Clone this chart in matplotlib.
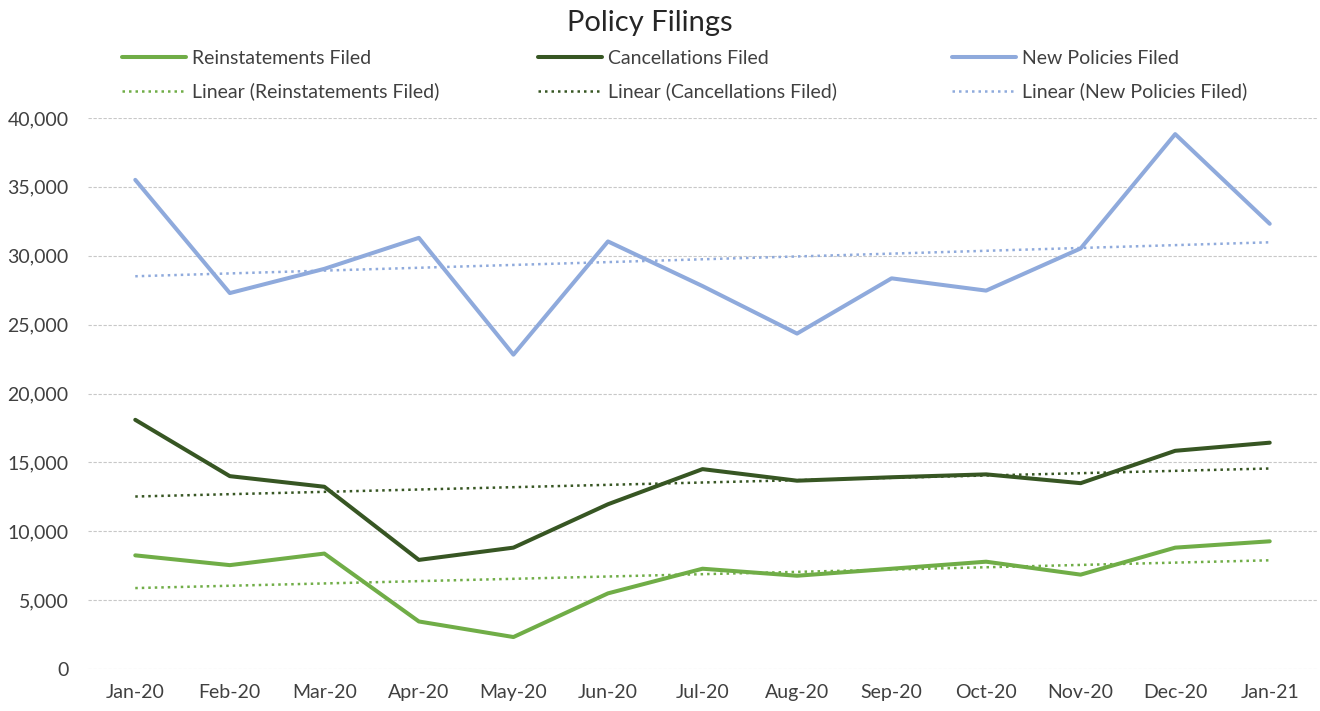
import numpy as np
import matplotlib
matplotlib.use("Agg")
import matplotlib.pyplot as plt
from matplotlib.ticker import FuncFormatter

plt.rcParams['font.family'] = ['Lato', 'DejaVu Sans']

months = ["Jan-20", "Feb-20", "Mar-20", "Apr-20", "May-20", "Jun-20", "Jul-20",
          "Aug-20", "Sep-20", "Oct-20", "Nov-20", "Dec-20", "Jan-21"]

reinstatements = [8250, 7540, 8380, 3450, 2320, 5490, 7280, 6770, 7280, 7790, 6850, 8810, 9270]
cancellations = [18090, 14000, 13230, 7920, 8810, 11960, 14510, 13670, 13920, 14130, 13490, 15840, 16430]
new_policies = [35510, 27290, 29050, 31300, 22820, 31040, 27800, 24350, 28360, 27470, 30530, 38830, 32320]

c_rein = "#70AD47"
c_canc = "#375623"
c_new = "#8FAADC"
txt = "#404040"

fig = plt.figure(figsize=(13.2, 7.11), dpi=100)
ax = fig.add_axes([88/1320, 1-669/711, (1317-88)/1320, (669-118)/711])

x = np.arange(len(months))

def trend(vals):
    # excel style linear trendline
    k, b = np.polyfit(x, vals, 1)
    return k*x + b

lines = []
for vals, col, name in [(reinstatements, c_rein, "Reinstatements Filed"),
                        (cancellations, c_canc, "Cancellations Filed"),
                        (new_policies, c_new, "New Policies Filed")]:
    l1, = ax.plot(x, vals, color=col, lw=2.9, label=name, solid_capstyle='round', zorder=3)
    l2, = ax.plot(x, trend(vals), color=col, lw=1.8, linestyle=(0, (1, 1.6)),
                  label="Linear (" + name + ")", zorder=2)
    lines.append((l1, l2))

ax.set_xlim(-0.5, len(months) - 0.5)
ax.set_ylim(0, 40000)
ax.set_yticks(range(0, 40001, 5000))
ax.yaxis.set_major_formatter(FuncFormatter(lambda v, p: f"{int(v):,}"))
ax.set_xticks(x)
ax.set_xticklabels(months)
ax.grid(axis='y', color='#c8c8c8', linestyle=(0, (3, 1.5)), lw=0.8)
ax.set_axisbelow(True)
for s in ax.spines.values():
    s.set_visible(False)
ax.tick_params(axis='both', length=0, labelsize=14, labelcolor=txt)
ax.tick_params(axis='y', pad=14)
ax.tick_params(axis='x', pad=11)

fig.text(0.492, 1-31/711, "Policy Filings", ha='center', va='baseline', fontsize=21, color='#262626')

# three legend columns, one per series
col_x = [122, 538, 952]
for (l1, l2), cx in zip(lines, col_x):
    fig.legend(handles=[l1, l2], loc='upper left', bbox_to_anchor=(cx/1320, 1-50/711),
               frameon=False, fontsize=14, handlelength=3.3, handletextpad=0.3,
               labelspacing=0.8, borderpad=0, borderaxespad=0, labelcolor=txt)

fig.savefig("out.png", dpi=100)
